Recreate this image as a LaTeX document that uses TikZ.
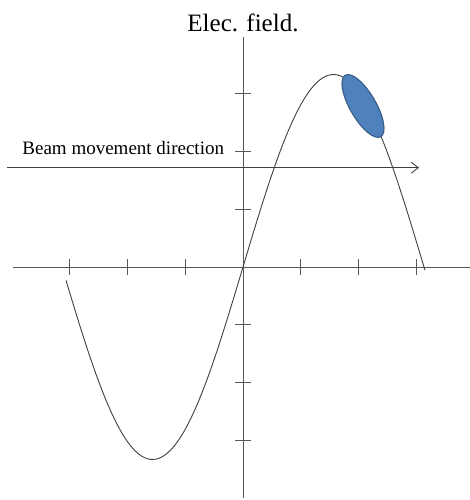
\documentclass[tikz,border=0pt]{standalone}
\usepackage{fontspec}
\setmainfont{Liberation Serif}
\usetikzlibrary{arrows.meta,shapes.geometric}
\definecolor{axisgray}{HTML}{595959}
\definecolor{curvegray}{HTML}{404040}
\definecolor{bunchblue}{HTML}{4F81BD}
\definecolor{bunchedge}{HTML}{385D8A}

\begin{document}
\begin{tikzpicture}[x=1pt,y=1pt,line width=0.9pt]
  \useasboundingbox (-243,-233) rectangle (227,267);
  % axes
  \draw[axisgray] (-230,0) -- (227,0);
  \draw[axisgray] (0,-231) -- (0,230);
  \foreach \k in {-3,-2,-1,1,2,3}
    \draw[axisgray] (57.7*\k,-8) -- (57.7*\k,8);
  \foreach \k in {-3,-2,-1,0,1,2,3}
    \draw[axisgray] (-8,57.7*\k) -- (8,57.7*\k);
  % field
  \draw[curvegray,smooth] plot[domain=-177:182,samples=120] (\x,{192.5*sin(\x*90/90.5)});
  % bunch
  \node[ellipse,draw=bunchedge,line width=1.1pt,fill=bunchblue,minimum width=71pt,minimum height=26pt,inner sep=0pt,rotate=-60] (bunch) at (120,161) {};
  % beam direction
  \coordinate (beamstart) at (-236,99.3);
  \coordinate (beamend) at (176,99.3);
  \draw[curvegray,-{Straight Barb[length=7pt,width=11pt]}] (beamstart) -- (beamend);
  \node[anchor=base west,inner sep=0pt,font=\fontsize{19}{22}\selectfont] (beam) at (-221,112) {Beam movement direction};
  \node[anchor=base,inner sep=0pt,font=\fontsize{25}{30}\selectfont] (title) at (0,235) {Elec. field.};
\end{tikzpicture}
\end{document}
